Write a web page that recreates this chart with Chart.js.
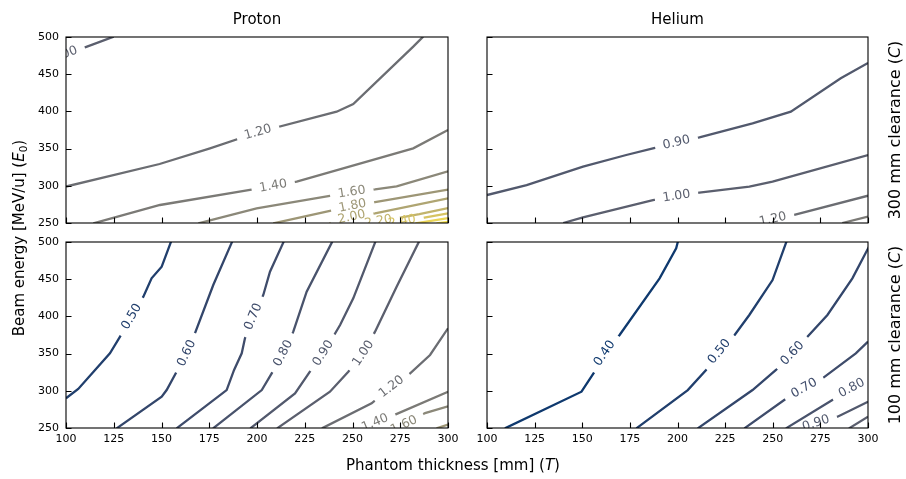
<!DOCTYPE html>
<html>
<head>
<meta charset="utf-8">
<script src="https://cdn.jsdelivr.net/npm/chart.js@4.4.0/dist/chart.umd.min.js"></script>
<style>
    html, body { margin: 0; padding: 0; background: #fff; }
    #wrap { position: relative; width: 906px; height: 479px; }
    #wrap canvas { position: absolute; left: 0; top: 0; }
</style>
</head>
<body>
<div id="wrap">
    <canvas id="protonFar" width="906" height="479"></canvas>
    <canvas id="heliumFar" width="906" height="479"></canvas>
    <canvas id="protonNear" width="906" height="479"></canvas>
    <canvas id="heliumNear" width="906" height="479"></canvas>
</div>
<script>
// axes (phantom thickness T [mm], beam energy E0 [MeV/u])
const thicknessTicks = [100, 125, 150, 175, 200, 225, 250, 275, 300];
const energyTicks = [250, 300, 350, 400, 450, 500];

// Proton, 300 mm clearance: contour levels, line points [T, E0], index of the point carrying the label
const protonFarLevels = [1.0, 1.2, 1.4, 1.6, 1.8, 2.0, 2.2, 2.4, 2.6, 2.8];
const protonFarLines = [
    [[94, 471], [99, 476], [111, 487], [125, 500.5]],
    [[100, 299], [149, 329.3], [175.4, 350.4], [200.5, 372], [241.7, 399.6], [250.4, 410], [281.8, 487], [287, 500.5]],
    [[114.3, 249.5], [149.2, 274.2], [196.3, 294.4], [208.5, 299.7], [220.8, 305.5], [281.8, 350.4], [300, 375]],
    [[169.3, 249.5], [199.8, 269.8], [249.6, 291.5], [261.8, 295.2], [273.1, 299.3], [300, 319.5]],
    [[208.5, 249.5], [236.4, 265.2], [250, 273], [261.8, 278], [300, 295]],
    [[238, 249.5], [249.6, 258], [261.8, 263], [300, 283.2]],
    [[255, 248], [263.5, 252], [285, 262], [300, 270]],
    [[268, 248], [276, 252], [300, 263]],
    [[283, 249.5], [300, 256.5]],
    [[294, 249.5], [300, 251.5]]
];
const protonFarLabelAt = [1, 3, 3, 2, 2, 1, 1, 1, -1, -1];

// Helium, 300 mm clearance
const heliumFarLevels = [0.9, 1.0, 1.2, 1.4];
const heliumFarLines = [
    [[100, 287.6], [120.8, 301], [150.4, 325.7], [173.1, 341.4], [187.1, 350.4], [199.5, 358], [211.5, 365.2], [239.4, 384], [259.5, 399.6], [285.7, 444.5], [300, 465]],
    [[140, 250], [150.4, 257.7], [187.1, 280.9], [199.5, 286], [211.5, 290.8], [237.7, 298.8], [249.9, 305.5], [300, 341.4]],
    [[240, 248.5], [250, 255], [261.3, 260.8], [300, 286.7]],
    [[286.5, 250], [300, 258.5]]
];
const heliumFarLabelAt = [5, 3, 1, -1];

// Proton, 100 mm clearance
const protonNearLevels = [0.5, 0.6, 0.7, 0.8, 0.9, 1.0, 1.2, 1.4, 1.6, 1.8];
const protonNearLines = [
    [[100, 289.9], [106.4, 302.4], [123, 350.4], [128.3, 372.7], [134.4, 399.6], [140.5, 426.5], [144.8, 451.2], [150.1, 466.8], [155, 500.5]],
    [[126.5, 249.5], [150.1, 292.1], [152.7, 301], [157.9, 325.7], [163.2, 350.4], [167.5, 377.3], [177.1, 442.2], [187, 500.5]],
    [[157.9, 249.5], [184.1, 301], [188, 328], [192, 350.4], [193.7, 370.6], [198.1, 399.6], [203.3, 428.8], [206.8, 460], [214, 500.5]],
    [[177, 249.5], [202.5, 301], [207.7, 323.5], [213.8, 350.4], [219, 379.5], [226, 433.2], [239.4, 500.5]],
    [[196.5, 249.5], [219.9, 296.6], [227.7, 325.7], [234.7, 350.4], [243.5, 388.4], [250.4, 424.3], [262, 500.5]],
    [[210.5, 249.5], [238.2, 298.8], [247.8, 325.7], [255.7, 350.4], [261.8, 379.5], [273.1, 439.9], [284.8, 500.5]],
    [[234, 249.5], [260, 283.2], [270.5, 305.5], [279.2, 321.2], [290.6, 348.1], [300, 384]],
    [[252, 246], [261.8, 257], [270.5, 266], [300, 298.8]],
    [[268, 246], [277, 254], [288, 270], [300, 279]],
    [[294, 249.5], [300, 254.5]]
];
const protonNearLabelAt = [4, 4, 5, 3, 3, 3, 2, 1, 1, -1];

// Helium, 100 mm clearance
const heliumNearLevels = [0.4, 0.5, 0.6, 0.7, 0.8, 0.9, 1.0];
const heliumNearLines = [
    [[109.4, 249.5], [149.6, 298.8], [156.5, 325.7], [161.8, 350.4], [169.6, 375], [190.6, 451.2], [199.3, 491.5], [200.2, 500.5]],
    [[178.4, 249.5], [205.4, 301], [215, 328], [222, 352.6], [230, 375], [237.7, 401.9], [249.9, 448.9], [257.2, 500.5]],
    [[210.6, 249.5], [239.4, 301], [251.7, 328], [260.4, 350.4], [268.2, 372.7], [278.7, 401.9], [291.8, 451.2], [299.6, 489.2], [302, 500]],
    [[235.1, 249.5], [256, 287.6], [266.5, 303.4], [276.1, 316.8], [293.6, 350.4], [300, 366]],
    [[256.9, 249.5], [281.3, 287.6], [291.5, 303.5], [300, 313]],
    [[264, 248], [272.7, 256.3], [284, 265.2], [300, 285.4]],
    [[290, 249.5], [300, 265.2]]
];
const heliumNearLabelAt = [3, 3, 3, 2, 2, 1, -1];

const FONT = '"DejaVu Sans", sans-serif';
Chart.defaults.font.family = FONT;
Chart.defaults.color = '#000';

// cividis, sampled
const cividis = ['#00204d', '#00336f', '#39486b', '#575c6d', '#707173', '#8a8779', '#a69d75', '#c4b56c', '#e4cf5b', '#ffea46'];
function levelColor(v) {
    let t = Math.min(Math.max(v / 2.85, 0), 1) * (cividis.length - 1);
    const i = Math.min(Math.floor(t), cividis.length - 2);
    const f = t - i;
    const a = cividis[i], b = cividis[i + 1];
    const ch = k => Math.round(parseInt(a.substr(k, 2), 16) * (1 - f) + parseInt(b.substr(k, 2), 16) * f);
    return 'rgb(' + ch(1) + ',' + ch(3) + ',' + ch(5) + ')';
}

const LABEL_SIZE = 12.5;
const GAP = 8;

function labelGeom(chart, i, opts) {
    const k = opts.labelAt[i];
    if (k < 0) return null;
    const pts = opts.lines[i];
    const xs = chart.scales.x, ys = chart.scales.y;
    const px = p => xs.getPixelForValue(p[0]);
    const py = p => ys.getPixelForValue(p[1]);
    const a = pts[Math.max(k - 1, 0)], b = pts[Math.min(k + 1, pts.length - 1)];
    let ang = Math.atan2(py(b) - py(a), px(b) - px(a));
    if (ang > Math.PI / 2) ang -= Math.PI;
    if (ang < -Math.PI / 2) ang += Math.PI;
    const ctx = chart.ctx;
    ctx.save();
    ctx.font = LABEL_SIZE + 'px ' + FONT;
    const text = opts.levels[i].toFixed(2);
    const w = ctx.measureText(text).width;
    ctx.restore();
    return { x: px(pts[k]), y: py(pts[k]), ang, text, w };
}

// break each contour line where its label sits, then write the label along the line
const inlineLabels = {
    id: 'inlineLabels',
    beforeDatasetDraw(chart, args, opts) {
        const ctx = chart.ctx;
        ctx.save();
        const lab = labelGeom(chart, args.index, opts);
        if (!lab) return;
        const hw = lab.w / 2 + GAP, hh = 9;
        const c = Math.cos(lab.ang), s = Math.sin(lab.ang);
        ctx.beginPath();
        ctx.rect(0, 0, chart.width, chart.height);
        [[-hw, -hh], [hw, -hh], [hw, hh], [-hw, hh]].forEach(([u, v], n) => {
            const x = lab.x + u * c - v * s, y = lab.y + u * s + v * c;
            if (n) ctx.lineTo(x, y); else ctx.moveTo(x, y);
        });
        ctx.closePath();
        ctx.clip('evenodd');
    },
    afterDatasetDraw(chart) {
        chart.ctx.restore();
    },
    afterDatasetsDraw(chart, args, opts) {
        const ctx = chart.ctx;
        const area = chart.chartArea;
        ctx.save();
        ctx.beginPath();
        ctx.rect(area.left, area.top, area.right - area.left, area.bottom - area.top);
        ctx.clip();
        opts.lines.forEach((pts, i) => {
            const lab = labelGeom(chart, i, opts);
            if (!lab) return;
            ctx.save();
            ctx.translate(lab.x, lab.y);
            ctx.rotate(lab.ang);
            ctx.font = LABEL_SIZE + 'px ' + FONT;
            ctx.fillStyle = levelColor(opts.levels[i]);
            ctx.textAlign = 'center';
            ctx.textBaseline = 'middle';
            ctx.fillText(lab.text, 0, 0);
            ctx.restore();
        });
        ctx.restore();
    }
};

// black frame with inward ticks on the bottom and left
const frame = {
    id: 'frame',
    afterDraw(chart) {
        const ctx = chart.ctx;
        const a = chart.chartArea;
        ctx.save();
        ctx.strokeStyle = '#000';
        ctx.lineWidth = 1.1;
        ctx.strokeRect(a.left, a.top, a.right - a.left, a.bottom - a.top);
        ctx.beginPath();
        thicknessTicks.forEach(v => {
            const x = Math.round(chart.scales.x.getPixelForValue(v)) + 0.5;
            ctx.moveTo(x, a.bottom);
            ctx.lineTo(x, a.bottom - 5.5);
        });
        energyTicks.forEach(v => {
            const y = Math.round(chart.scales.y.getPixelForValue(v)) + 0.5;
            ctx.moveTo(a.left, y);
            ctx.lineTo(a.left + 5.5, y);
        });
        ctx.stroke();
        ctx.restore();
    }
};

function drawRich(ctx, parts, cx, cy, rot, size) {
    ctx.save();
    ctx.translate(cx, cy);
    ctx.rotate(rot);
    ctx.textBaseline = 'middle';
    ctx.textAlign = 'left';
    ctx.fillStyle = '#000';
    const fontOf = p => (p.it ? 'italic ' : '') + (p.sub ? size * 0.7 : size) + 'px ' + FONT;
    const widths = parts.map(p => { ctx.font = fontOf(p); return ctx.measureText(p.t).width; });
    let x = -widths.reduce((s, w) => s + w, 0) / 2;
    parts.forEach((p, n) => {
        ctx.font = fontOf(p);
        ctx.fillText(p.t, x, p.sub ? size * 0.28 : 0);
        x += widths[n];
    });
    ctx.restore();
}

// titles and shared axis labels of the figure
const figureText = {
    id: 'figureText',
    afterDraw(chart) {
        const ctx = chart.ctx;
        const S = 15;
        drawRich(ctx, [{ t: 'Proton' }], 257, 20, 0, S);
        drawRich(ctx, [{ t: 'Helium' }], 677.5, 20, 0, S);
        drawRich(ctx, [{ t: 'Phantom thickness [mm] (' }, { t: 'T', it: true }, { t: ')' }], 453, 466, 0, S);
        drawRich(ctx, [{ t: 'Beam energy [MeV/u] (' }, { t: 'E', it: true }, { t: '0', sub: true }, { t: ')' }], 20, 238, -Math.PI / 2, S);
        drawRich(ctx, [{ t: '300 mm clearance (' }, { t: 'C', it: true }, { t: ')' }], 896, 130, -Math.PI / 2, 16);
        drawRich(ctx, [{ t: '100 mm clearance (' }, { t: 'C', it: true }, { t: ')' }], 896, 335, -Math.PI / 2, 16);
    }
};

function makePanel(id, levels, lines, labelAt, box, showX, showY, extra) {
    const W = 906, H = 479;
    const yW = showY ? 40 : 0, xH = showX ? 20 : 0;
    return new Chart(document.getElementById(id), {
        type: 'scatter',
        data: {
            datasets: lines.map((pts, i) => ({
                label: levels[i].toFixed(2),
                data: pts.map(p => ({ x: p[0], y: p[1] })),
                showLine: true,
                borderColor: levelColor(levels[i]),
                borderWidth: 2.3,
                pointRadius: 0,
                tension: 0,
                clip: 0
            }))
        },
        options: {
            responsive: false,
            animation: false,
            events: [],
            layout: {
                padding: { left: box[0] - yW, right: W - box[1], top: box[2], bottom: H - box[3] - xH }
            },
            scales: {
                x: {
                    type: 'linear', min: 100, max: 300,
                    afterBuildTicks: s => { s.ticks = thicknessTicks.map(v => ({ value: v })); },
                    ticks: { display: showX, font: { size: 11 }, padding: 5, maxRotation: 0, autoSkip: false },
                    grid: { display: false, drawTicks: false },
                    border: { display: false },
                    afterFit: s => { s.height = xH; }
                },
                y: {
                    type: 'linear', min: 250, max: 500,
                    afterBuildTicks: s => { s.ticks = energyTicks.map(v => ({ value: v })); },
                    ticks: { display: showY, font: { size: 11 }, padding: 7, autoSkip: false },
                    grid: { display: false, drawTicks: false },
                    border: { display: false },
                    afterFit: s => { s.width = yW; }
                }
            },
            plugins: {
                legend: { display: false },
                tooltip: { enabled: false },
                inlineLabels: { levels, lines, labelAt }
            }
        },
        plugins: [inlineLabels, frame].concat(extra || [])
    });
}

makePanel('protonFar', protonFarLevels, protonFarLines, protonFarLabelAt, [66, 448, 37, 223], false, true, [figureText]);
makePanel('heliumFar', heliumFarLevels, heliumFarLines, heliumFarLabelAt, [487, 868, 37, 223], false, false);
makePanel('protonNear', protonNearLevels, protonNearLines, protonNearLabelAt, [66, 448, 242, 428], true, true);
makePanel('heliumNear', heliumNearLevels, heliumNearLines, heliumNearLabelAt, [487, 868, 242, 428], true, false);
</script>
</body>
</html>
